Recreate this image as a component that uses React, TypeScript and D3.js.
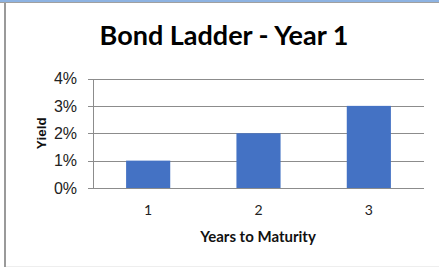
import { useEffect, useRef } from 'react';
import * as d3 from 'd3';

const CATEGORIES = ['1', '2', '3'];
const YIELDS = [0.01, 0.02, 0.03];
const Y_TICKS = [0, 0.01, 0.02, 0.03, 0.04];

const W = 439;
const H = 267;

export default function App() {
  const svgRef = useRef<SVGSVGElement>(null);

  useEffect(() => {
    if (!svgRef.current) return;
    const svg = d3.select(svgRef.current);
    svg.selectAll('*').remove();

    // frame (screenshot edges)
    svg.append('rect').attr('x', 0).attr('y', 0).attr('width', W).attr('height', 2).attr('fill', '#8db3e2');
    svg.append('line').attr('x1', 0).attr('x2', W).attr('y1', 2.5).attr('y2', 2.5).attr('stroke', '#a0a0a0');
    svg.append('rect').attr('x', 4).attr('y', 3).attr('width', 2).attr('height', H).attr('fill', '#9a9a9a');
    svg.append('line').attr('x1', 6).attr('x2', W).attr('y1', 266.5).attr('y2', 266.5).attr('stroke', '#eeeeee');

    const x = d3.scaleBand<string>().domain(CATEGORIES).range([93, 424])
      .paddingInner(0.6).paddingOuter(0.3);
    const y = d3.scaleLinear().domain([0, 0.04]).range([188, 78.5]);

    // gridlines
    const grid = svg.append('g');
    Y_TICKS.forEach(t => {
      grid.append('line')
        .attr('x1', 88).attr('x2', 424)
        .attr('y1', Math.round(y(t)) + 0.5).attr('y2', Math.round(y(t)) + 0.5)
        .attr('stroke', '#8c8c8c').attr('stroke-width', 1);
    });

    // bars
    svg.append('g').selectAll('rect').data(YIELDS).enter().append('rect')
      .attr('x', (_, i) => x(CATEGORIES[i]) ?? 0)
      .attr('y', d => y(d))
      .attr('width', x.bandwidth())
      .attr('height', d => y(0) - y(d))
      .attr('fill', '#4472c4');

    // y axis line
    svg.append('line')
      .attr('x1', 93.5).attr('x2', 93.5).attr('y1', Math.round(y(0.04))).attr('y2', Math.round(y(0)) + 1)
      .attr('stroke', '#8c8c8c');

    // y tick labels
    svg.append('g').selectAll('text').data(Y_TICKS).enter().append('text')
      .attr('x', 77).attr('y', d => y(d))
      .attr('dy', '0.36em')
      .attr('text-anchor', 'end')
      .attr('font-family', 'Liberation Sans, Arial, sans-serif')
      .attr('font-size', 16)
      .attr('fill', '#222')
      .text(d => d3.format('.0%')(d));

    // x tick labels
    svg.append('g').selectAll('text').data(CATEGORIES).enter().append('text')
      .attr('x', d => (x(d) ?? 0) + x.bandwidth() / 2)
      .attr('y', 215)
      .attr('text-anchor', 'middle')
      .attr('font-family', 'Lato, Carlito, sans-serif')
      .attr('font-size', 14)
      .attr('fill', '#222')
      .text(d => d);

    // title
    svg.append('text')
      .attr('x', 224).attr('y', 45)
      .attr('text-anchor', 'middle')
      .attr('font-family', 'Lato, Carlito, sans-serif')
      .attr('font-weight', 'bold')
      .attr('font-size', 27)
      .attr('fill', '#000')
      .text('Bond Ladder - Year 1');

    // axis titles
    svg.append('text')
      .attr('x', 258).attr('y', 242)
      .attr('text-anchor', 'middle')
      .attr('font-family', 'Lato, Carlito, sans-serif')
      .attr('font-weight', 'bold')
      .attr('font-size', 15)
      .attr('fill', '#111')
      .text('Years to Maturity');

    svg.append('text')
      .attr('transform', `translate(45.5, ${(y(0) + y(0.04)) / 2}) rotate(-90)`)
      .attr('text-anchor', 'middle')
      .attr('font-family', 'Liberation Sans, Arial, sans-serif')
      .attr('font-weight', 'bold')
      .attr('font-size', 13.5)
      .attr('fill', '#111')
      .text('Yield');
  }, []);

  return (
    <svg
      ref={svgRef}
      width={W}
      height={H}
      style={{ position: 'fixed', left: 0, top: 0, background: '#fff' }}
    />
  );
}
